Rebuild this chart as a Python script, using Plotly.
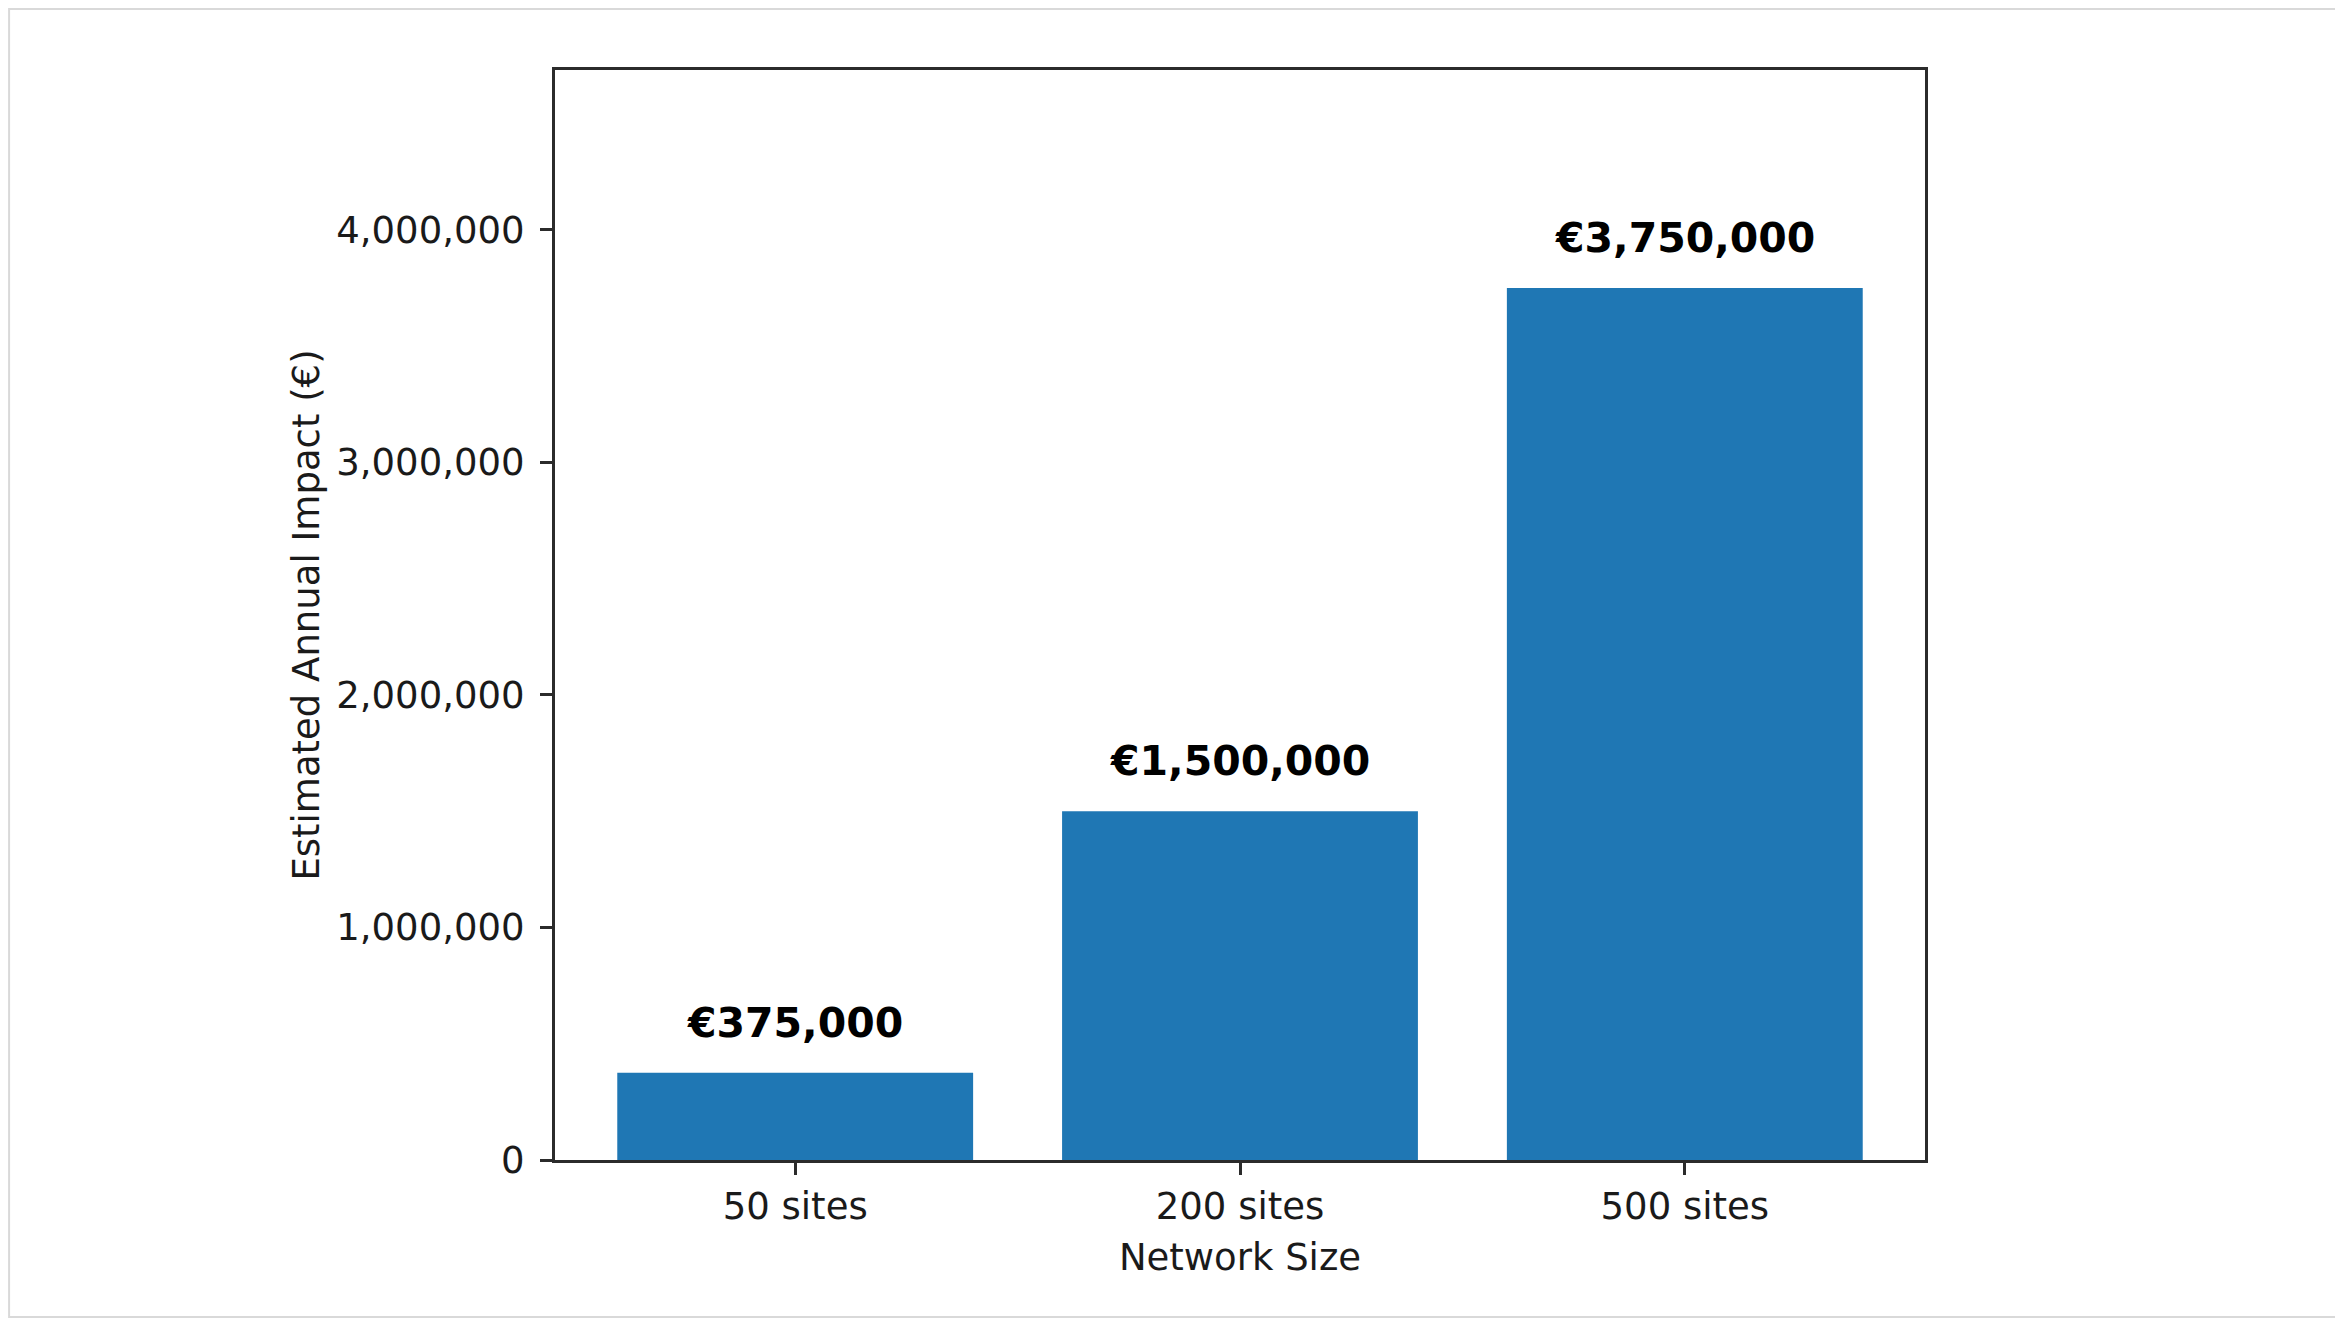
import plotly.graph_objects as go

categories = ["50 sites", "200 sites", "500 sites"]
values = [375000, 1500000, 3750000]
value_labels = ["€375,000", "€1,500,000", "€3,750,000"]
y_ticks = [0, 1000000, 2000000, 3000000, 4000000]

W, H = 2343, 1319
L, R, T, B = 547, 426, 62, 167
pw, ph = W - L - R, H - T - B

FONT = "DejaVu Sans"
TXT = "#1a1a1a"
AX = "#2b2b2b"

fig = go.Figure()
fig.add_trace(go.Bar(
    x=list(range(len(categories))),
    y=values,
    width=0.8,
    marker=dict(color="#1f77b4", line=dict(width=0)),
    hoverinfo="skip",
))

for i, (v, lab) in enumerate(zip(values, value_labels)):
    fig.add_annotation(
        x=i, y=v, xref="x", yref="y",
        text="<b>" + lab + "</b>", showarrow=False,
        yanchor="middle", yshift=50,
        font=dict(family=FONT, size=41, color="#000000"),
    )

# light frame around the whole image
fig.add_shape(
    type="rect", xref="paper", yref="paper",
    x0=-L / pw + 0.0008, x1=(2333 - L) / pw,
    y0=-(1309 - (T + ph)) / ph, y1=1 + T / ph - 0.001,
    line=dict(color="#d9d9d9", width=2), layer="below",
)

fig.update_layout(
    width=W, height=H,
    margin=dict(l=L, r=R, t=T, b=B, pad=0),
    paper_bgcolor="white", plot_bgcolor="white",
    showlegend=False,
    font=dict(family=FONT, size=37, color=TXT),
    bargap=0.2,
)
fig.update_xaxes(
    range=[-0.54, 2.54],
    tickmode="array", tickvals=list(range(len(categories))), ticktext=categories,
    ticks="outside", ticklen=12, tickwidth=3, tickcolor=AX,
    showline=True, linewidth=3, linecolor=AX, mirror=True,
    showgrid=False, zeroline=False,
    tickfont=dict(family=FONT, size=37, color=TXT),
    title=dict(text="Network Size", font=dict(family=FONT, size=37, color=TXT), standoff=17),
)
fig.update_yaxes(
    range=[0, 4687500],
    tickmode="array", tickvals=y_ticks,
    ticktext=[f"{t:,}" for t in y_ticks],
    ticks="outside", ticklen=12, tickwidth=3, tickcolor=AX,
    ticklabelstandoff=8,
    showline=True, linewidth=3, linecolor=AX, mirror=True,
    showgrid=False, zeroline=False,
    tickfont=dict(family=FONT, size=37, color=TXT),
    title=dict(text="Estimated Annual Impact (€)", font=dict(family=FONT, size=37, color=TXT), standoff=6),
)

fig.write_html("out.html")
